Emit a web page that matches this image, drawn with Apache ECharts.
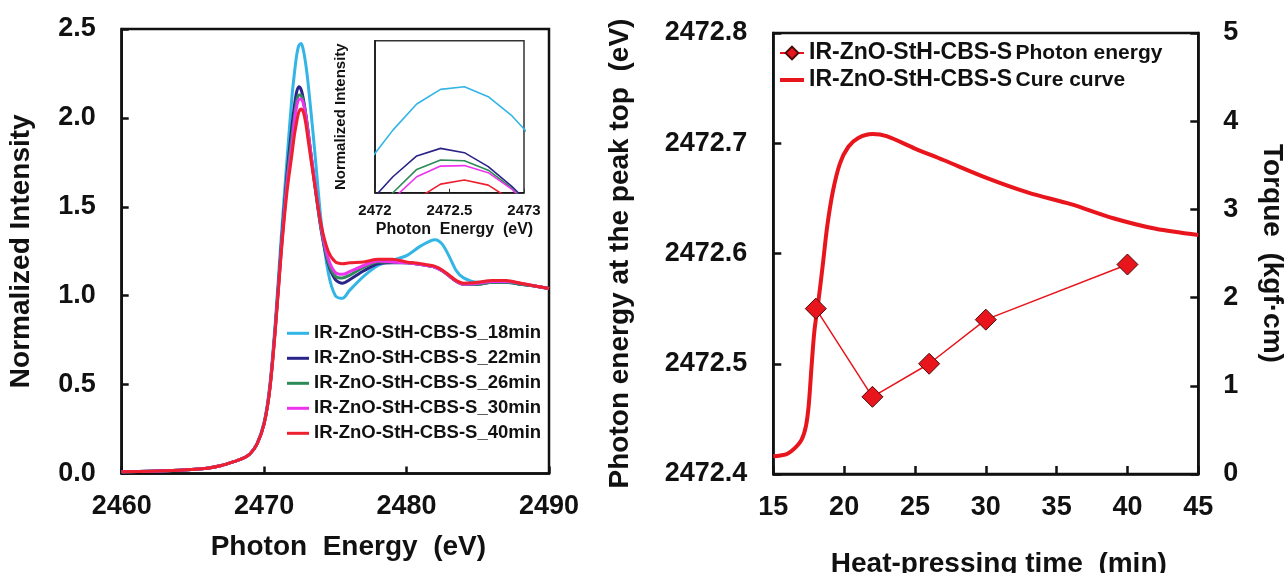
<!DOCTYPE html>
<html><head><meta charset="utf-8">
<script src="https://cdn.jsdelivr.net/npm/echarts@6/dist/echarts.min.js"></script>
<style>html,body{margin:0;padding:0;background:#fff}#c{width:1287px;height:573px}</style>
</head><body><div id="c"></div>
<script>
// ---------- Left panel: XANES spectra ----------
const energy = [2460, 2462, 2464, 2466, 2467, 2468, 2468.5, 2469, 2469.5, 2470, 2470.4, 2470.8, 2471.2, 2471.6,
  2471.96, 2472.12, 2472.28, 2472.44, 2472.6, 2472.76, 2472.92, 2473.08, 2473.5, 2474, 2474.5, 2475, 2475.5, 2476,
  2477, 2478, 2479, 2480, 2481, 2482, 2482.5, 2483, 2483.5, 2484, 2485, 2486, 2487, 2488, 2489, 2490];
const int18 = [0.01,0.012,0.018,0.03,0.045,0.07,0.085,0.11,0.17,0.29,0.5,0.87,1.33,1.76,
  2.125,2.247,2.35,2.408,2.418,2.379,2.303,2.2,1.86,1.42,1.13,1.0,0.985,1.03,
  1.11,1.17,1.2,1.225,1.28,1.315,1.29,1.22,1.14,1.1,1.075,1.08,1.075,1.065,1.055,1.04];
const int22 = [0.01,0.012,0.018,0.03,0.045,0.07,0.085,0.11,0.165,0.28,0.48,0.84,1.28,1.68,
  1.96,2.063,2.145,2.175,2.158,2.103,2.024,1.93,1.66,1.37,1.18,1.09,1.07,1.09,
  1.14,1.18,1.185,1.185,1.175,1.16,1.14,1.11,1.08,1.065,1.065,1.075,1.075,1.065,1.055,1.04];
const int26 = [0.01,0.012,0.018,0.03,0.045,0.07,0.085,0.11,0.165,0.28,0.48,0.83,1.26,1.65,
  1.9,2.0,2.092,2.129,2.126,2.089,2.017,1.92,1.66,1.38,1.19,1.11,1.10,1.115,
  1.16,1.19,1.19,1.185,1.175,1.16,1.14,1.11,1.08,1.065,1.065,1.075,1.075,1.065,1.055,1.04];
const int30 = [0.01,0.012,0.018,0.03,0.045,0.07,0.085,0.11,0.165,0.28,0.48,0.83,1.25,1.62,
  1.85,1.975,2.063,2.105,2.107,2.079,2.013,1.92,1.67,1.39,1.21,1.13,1.12,1.135,
  1.17,1.195,1.19,1.185,1.175,1.16,1.14,1.11,1.08,1.065,1.07,1.08,1.08,1.07,1.055,1.04];
const int40 = [0.01,0.012,0.018,0.03,0.045,0.07,0.085,0.11,0.165,0.28,0.47,0.82,1.24,1.58,
  1.80,1.90,1.975,2.034,2.05,2.03,1.97,1.88,1.65,1.40,1.25,1.19,1.18,1.185,
  1.19,1.205,1.205,1.19,1.18,1.165,1.145,1.115,1.085,1.07,1.075,1.085,1.085,1.07,1.055,1.04];
const spectraNames = ['IR-ZnO-StH-CBS-S_18min','IR-ZnO-StH-CBS-S_22min','IR-ZnO-StH-CBS-S_26min',
  'IR-ZnO-StH-CBS-S_30min','IR-ZnO-StH-CBS-S_40min'];
const spectra = [int18, int22, int26, int30, int40];

// ---------- Right panel ----------
const heatTime = [18, 22, 26, 30, 40];
const peakEnergy = [2472.55, 2472.47, 2472.50, 2472.54, 2472.59];
const cureTime = [15,15.5,16,16.5,17,17.3,17.5,17.7,17.9,18.2,18.5,18.8,19.2,19.7,20.3,21,22,23,25,27,30,33,36,39,42,45];
const torque = [0.20,0.21,0.23,0.29,0.39,0.54,0.78,1.22,1.62,1.98,2.38,2.8,3.2,3.52,3.71,3.81,3.855,3.83,3.69,3.56,3.36,3.19,3.06,2.9,2.78,2.71];
const rightNames = ['IR-ZnO-StH-CBS-S Photon energy', 'IR-ZnO-StH-CBS-S Cure curve'];

const FONT = "'Liberation Sans', Arial, Helvetica, sans-serif";
const BLACK = '#111';
const lineColors = ['#33b5e5', '#2b2488', '#2e8b57', '#ee33ee', '#ee1f2e'];
const RED = '#e8151c';

const tickLabel = (size) => ({ fontFamily: FONT, fontSize: size, fontWeight: 'bold', color: BLACK });
const axLine = (w) => ({ show: true, onZero: false, lineStyle: { color: BLACK, width: w } });
const plain = v => String(v);

const series = [];
spectra.forEach((arr, i) => {
  series.push({
    type: 'line', name: spectraNames[i], xAxisIndex: 0, yAxisIndex: 0,
    data: energy.map((e, j) => [e, arr[j]]),
    symbol: 'none', smooth: 0.3,
    lineStyle: { width: 3, color: lineColors[i] }, itemStyle: { color: lineColors[i] },
    z: 2 + i * 0.1
  });
});
spectra.forEach((arr, i) => {
  series.push({
    type: 'line', name: spectraNames[i], xAxisIndex: 1, yAxisIndex: 1,
    data: energy.map((e, j) => [e, arr[j]]),
    symbol: 'none', smooth: false, clip: true,
    lineStyle: { width: 1.6, color: lineColors[i] }, itemStyle: { color: lineColors[i] },
    z: 10
  });
});
series.push({
  type: 'line', name: rightNames[1], xAxisIndex: 2, yAxisIndex: 3,
  data: cureTime.map((t, i) => [t, torque[i]]),
  symbol: 'none', smooth: 0.3,
  lineStyle: { width: 4, color: RED }, itemStyle: { color: RED }, z: 3
});
series.push({
  type: 'line', name: rightNames[0], xAxisIndex: 2, yAxisIndex: 2,
  data: heatTime.map((t, i) => [t, peakEnergy[i]]),
  symbol: 'diamond', symbolSize: 21,
  lineStyle: { width: 1.5, color: RED },
  itemStyle: { color: RED, borderColor: '#4a0a0a', borderWidth: 1 }, z: 5
});

const option = {
  backgroundColor: '#fff',
  animation: false,
  textStyle: { fontFamily: FONT },
  grid: [
    { left: 121.7, top: 29, width: 427.3, height: 444.5, show: true, borderColor: BLACK, borderWidth: 2.5,
      backgroundColor: 'transparent', containLabel: false, outerBoundsMode: 'none' },
    { left: 375, top: 40.7, width: 149, height: 152, show: true, borderColor: '#333', borderWidth: 1.5,
      backgroundColor: '#fff', z: 8, containLabel: false, outerBoundsMode: 'none' },
    { left: 773.3, top: 33, width: 425, height: 441, show: true, borderColor: BLACK, borderWidth: 2.5,
      backgroundColor: 'transparent', containLabel: false, outerBoundsMode: 'none' }
  ],
  xAxis: [
    { gridIndex: 0, type: 'value', min: 2460, max: 2490, interval: 10,
      axisLine: axLine(2.5), axisTick: { inside: true, length: 7, lineStyle: { color: BLACK, width: 2.5 } },
      axisLabel: Object.assign(tickLabel(27), { margin: 20, formatter: plain }), splitLine: { show: false },
      name: 'Photon  Energy  (eV)', nameLocation: 'middle', nameGap: 60,
      nameTextStyle: { fontFamily: FONT, fontSize: 28, fontWeight: 'bold', color: BLACK, padding: [0, 0, 0, 26] } },
    { gridIndex: 1, type: 'value', min: 2472, max: 2473, interval: 0.5,
      axisLine: axLine(1.5), axisTick: { inside: true, length: 4, lineStyle: { color: '#333', width: 1 } },
      axisLabel: Object.assign(tickLabel(15), { margin: 11, formatter: plain }), splitLine: { show: false },
      name: 'Photon  Energy  (eV)', nameLocation: 'middle', nameGap: 29,
      nameTextStyle: { fontFamily: FONT, fontSize: 16, fontWeight: 'bold', color: BLACK, padding: [0, 0, 0, 10] }, z: 9 },
    { gridIndex: 2, type: 'value', min: 15, max: 45, interval: 5,
      axisLine: axLine(2.5), axisTick: { inside: true, length: 8, lineStyle: { color: BLACK, width: 2.5 } },
      axisLabel: Object.assign(tickLabel(27), { margin: 20, formatter: plain }), splitLine: { show: false },
      name: 'Heat-pressing time  (min)', nameLocation: 'middle', nameGap: 76,
      nameTextStyle: { fontFamily: FONT, fontSize: 28, fontWeight: 'bold', color: BLACK, padding: [0, 0, 0, 26] } }
  ],
  yAxis: [
    { gridIndex: 0, type: 'value', min: 0, max: 2.5, interval: 0.5,
      axisLine: axLine(2.5), axisTick: { inside: true, length: 7, lineStyle: { color: BLACK, width: 2.5 } },
      axisLabel: Object.assign(tickLabel(27), { margin: 26, formatter: v => v.toFixed(1) }), splitLine: { show: false },
      name: 'Normalized Intensity', nameLocation: 'middle', nameRotate: 90, nameGap: 86,
      nameTextStyle: { fontFamily: FONT, fontSize: 28, fontWeight: 'bold', color: BLACK } },
    { gridIndex: 1, type: 'value', min: 2.0, max: 2.6,
      axisLine: axLine(1.5), axisTick: { show: false }, axisLabel: { show: false }, splitLine: { show: false },
      name: 'Normalized Intensity', nameLocation: 'middle', nameRotate: 90, nameGap: 27,
      nameTextStyle: { fontFamily: FONT, fontSize: 15, fontWeight: 'bold', color: BLACK }, z: 9 },
    { gridIndex: 2, type: 'value', min: 2472.4, max: 2472.8, interval: 0.1, position: 'left',
      axisLine: axLine(2.5), axisTick: { inside: true, length: 8, lineStyle: { color: BLACK, width: 2.5 } },
      axisLabel: Object.assign(tickLabel(27), { margin: 26, formatter: v => v.toFixed(1) }), splitLine: { show: false },
      name: 'Photon energy at the peak top  (eV)', nameLocation: 'middle', nameRotate: 90, nameGap: 139,
      nameTextStyle: { fontFamily: FONT, fontSize: 28, fontWeight: 'bold', color: BLACK } },
    { gridIndex: 2, type: 'value', min: 0, max: 5, interval: 1, position: 'right',
      axisLine: axLine(2.5), axisTick: { inside: true, length: 8, lineStyle: { color: BLACK, width: 2.5 } },
      axisLabel: Object.assign(tickLabel(27), { margin: 25, formatter: plain }), splitLine: { show: false },
      name: 'Torque  (kgf·cm)', nameLocation: 'middle', nameRotate: -90, nameGap: 59,
      nameTextStyle: { fontFamily: FONT, fontSize: 28, fontWeight: 'bold', color: BLACK } }
  ],
  legend: [
    { data: spectraNames, orient: 'vertical', left: 287, top: 320.8, padding: 0, itemGap: 0,
      icon: 'rect', itemWidth: 22, itemHeight: 3, selectedMode: false,
      textStyle: { fontFamily: FONT, fontSize: 18.5, fontWeight: 'bold', color: BLACK, lineHeight: 25 } },
    { data: [ { name: rightNames[0] },
              { name: rightNames[1], itemStyle: { opacity: 0, borderWidth: 0 }, lineStyle: { width: 4 } } ],
      orient: 'vertical', left: 778, top: 39.5, padding: 0, itemGap: 0,
      itemWidth: 24, itemHeight: 16, selectedMode: false,
      formatter: n => { const k = n.indexOf(' '); return '{a|' + n.slice(0, k) + '} {b|' + n.slice(k + 1) + '}'; },
      textStyle: { fontFamily: FONT, color: BLACK, lineHeight: 27,
        rich: { a: { fontFamily: FONT, fontSize: 23, fontWeight: 'bold', color: BLACK, lineHeight: 27 },
                b: { fontFamily: FONT, fontSize: 21, fontWeight: 'bold', color: BLACK, lineHeight: 27 } } } }
  ],
  series: series
};
const chart = echarts.init(document.getElementById('c'), null, { renderer: 'canvas' });
chart.setOption(option);
</script>
</body></html>
